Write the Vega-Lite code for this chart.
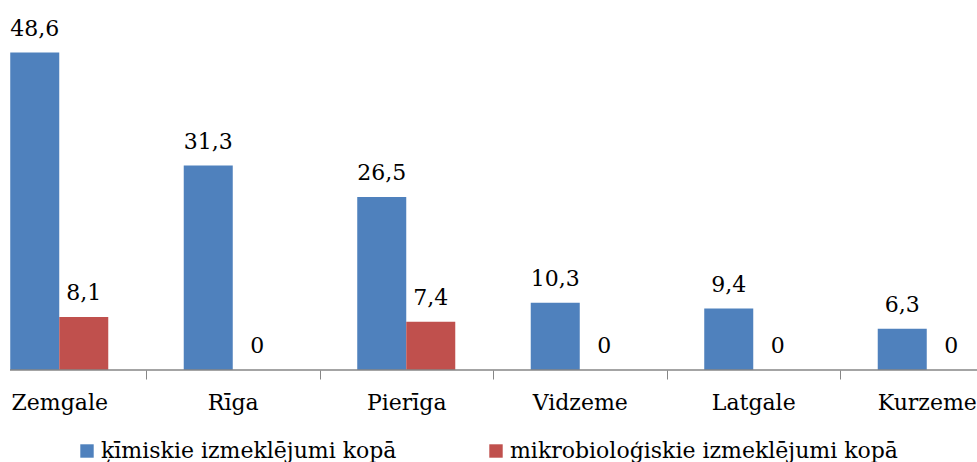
{
  "$schema": "https://vega.github.io/schema/vega-lite/v6.json",
  "width": 967,
  "height": 370,
  "autosize": {"type": "none"},
  "padding": {"left": 10, "top": 0, "right": 0, "bottom": 92},
  "background": "white",
  "config": {
    "view": {"stroke": null},
    "font": "DejaVu Serif",
    "locale": {"number": {"decimal": ",", "thousands": " ", "grouping": [3], "currency": ["", " €"]}}
  },
  "data": {
    "values": [
      {"region": "Zemgale", "series": "ķīmiskie izmeklējumi kopā", "value": 48.6},
      {"region": "Zemgale", "series": "mikrobioloģiskie izmeklējumi kopā", "value": 8.1},
      {"region": "Rīga", "series": "ķīmiskie izmeklējumi kopā", "value": 31.3},
      {"region": "Rīga", "series": "mikrobioloģiskie izmeklējumi kopā", "value": 0},
      {"region": "Pierīga", "series": "ķīmiskie izmeklējumi kopā", "value": 26.5},
      {"region": "Pierīga", "series": "mikrobioloģiskie izmeklējumi kopā", "value": 7.4},
      {"region": "Vidzeme", "series": "ķīmiskie izmeklējumi kopā", "value": 10.3},
      {"region": "Vidzeme", "series": "mikrobioloģiskie izmeklējumi kopā", "value": 0},
      {"region": "Latgale", "series": "ķīmiskie izmeklējumi kopā", "value": 9.4},
      {"region": "Latgale", "series": "mikrobioloģiskie izmeklējumi kopā", "value": 0},
      {"region": "Kurzeme", "series": "ķīmiskie izmeklējumi kopā", "value": 6.3},
      {"region": "Kurzeme", "series": "mikrobioloģiskie izmeklējumi kopā", "value": 0}
    ]
  },
  "layer": [
    {
      "mark": {"type": "bar"},
      "encoding": {
        "x": {
          "field": "region", "type": "nominal", "sort": null,
          "scale": {"range": [-37.5, 1003.5], "paddingInner": 0, "paddingOuter": 0},
          "axis": {
            "title": null, "domain": false, "tickBand": "extent", "tickSize": 9,
            "tickColor": "#868686", "tickWidth": 1, "labelAngle": 0,
            "labelFont": "DejaVu Serif", "labelFontSize": 22, "labelColor": "black",
            "labelBaseline": "alphabetic", "labelPadding": 30,
            "labelOverlap": false, "labelBound": false
          }
        },
        "xOffset": {"field": "series", "type": "nominal", "sort": null, "scale": {"paddingInner": 0, "paddingOuter": 0.77}},
        "y": {"field": "value", "type": "quantitative", "scale": {"domain": [0, 56.65], "nice": false, "zero": true}, "axis": null},
        "color": {
          "field": "series", "type": "nominal", "sort": null,
          "scale": {"domain": ["ķīmiskie izmeklējumi kopā", "mikrobioloģiskie izmeklējumi kopā"], "range": ["#4F81BD", "#C0504D"]},
          "legend": {
            "orient": "none", "legendX": 66, "legendY": 440, "direction": "horizontal",
            "title": null, "symbolType": "square", "symbolSize": 180, "symbolStrokeWidth": 0,
            "symbolOpacity": 1, "labelLimit": 0,
            "labelFont": "DejaVu Serif", "labelFontSize": 22, "labelColor": "black",
            "columnPadding": 88, "labelOffset": 3, "padding": 0
          }
        }
      }
    },
    {
      "mark": {"type": "text", "dy": -17, "baseline": "alphabetic", "font": "DejaVu Serif", "fontSize": 22, "color": "black"},
      "encoding": {
        "x": {"field": "region", "type": "nominal", "sort": null},
        "xOffset": {"field": "series", "type": "nominal", "sort": null},
        "y": {"field": "value", "type": "quantitative"},
        "text": {"field": "value", "type": "quantitative", "format": ".3~g"}
      }
    },
    {
      "data": {"values": [{}]},
      "mark": {"type": "rule", "color": "#868686", "strokeWidth": 1.5},
      "encoding": {"y": {"datum": 0}}
    }
  ]
}
